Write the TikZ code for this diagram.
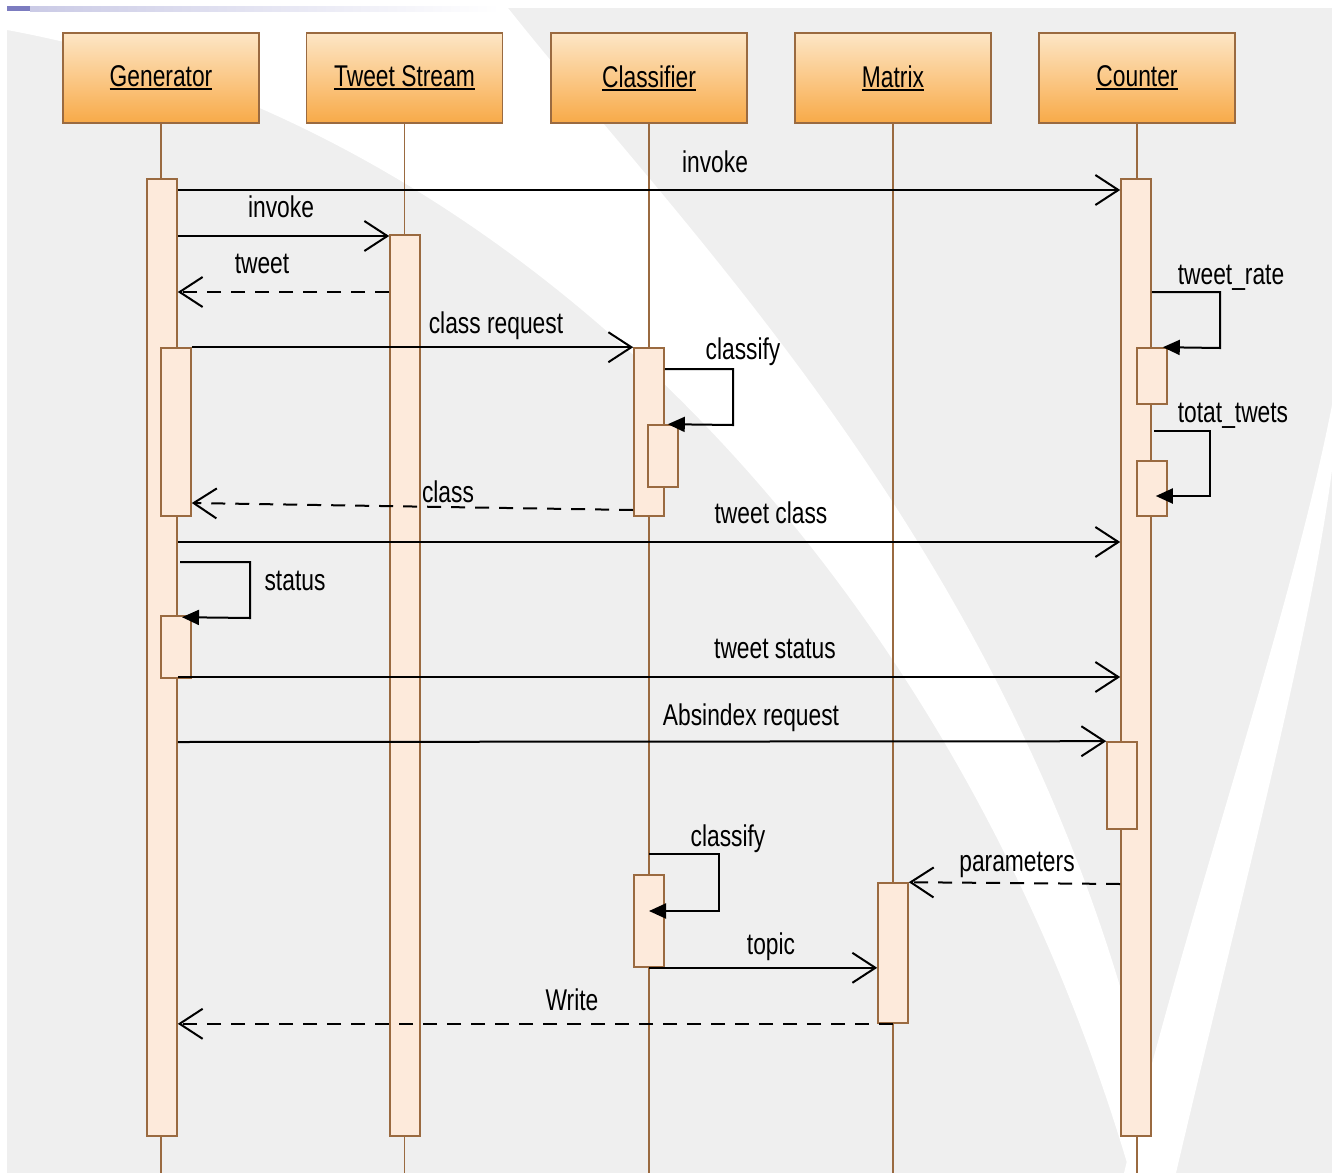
\documentclass[tikz,border=0pt]{standalone}
\usepackage{fontspec}
\setmainfont{Liberation Sans}[FakeStretch=0.76]
\usetikzlibrary{arrows.meta,calc}
\definecolor{bggray}{HTML}{EFEFEF}
\definecolor{lbrown}{HTML}{9A6A40}
\definecolor{actfill}{HTML}{FDEADB}
\definecolor{hdtop}{HTML}{FDE6C6}
\definecolor{hdbot}{HTML}{F8AA48}
\definecolor{topbar}{HTML}{7C7CC0}
\newcommand\hdul[1]{\setbox0\hbox{#1}\rlap{\rule[-3.5pt]{\wd0}{2pt}}\box0}
\begin{document}
\begin{tikzpicture}[x=1pt,y=-1pt,
  header/.style={draw=lbrown, line width=1.8pt, top color=hdtop, bottom color=hdbot, minimum width=196pt, minimum height=90pt, inner sep=0pt, font=\fontsize{30}{36}\selectfont},
  actbar/.style={draw=lbrown, line width=1.6pt, fill=actfill, minimum width=30pt, inner sep=0pt},
  lifeline/.style={draw=lbrown, line width=1.4pt},
  msg/.style={draw=black, line width=2pt, -{Straight Barb[length=23pt,width=30pt]}},
  ret/.style={msg, dash pattern=on 14pt off 10pt},
  selfmsg/.style={draw=black, line width=2pt, -{Triangle[length=17pt,width=15pt]}},
  lbl/.style={font=\fontsize{30}{36}\selectfont, inner sep=0pt, anchor=base},
]
% background
\useasboundingbox (0,0) rectangle (1339,1173);
\fill[white] (0,0) rectangle (1339,1173);
\fill[bggray] (7,8) rectangle (1332,1173);
\fill[white] (7,30) .. controls (500,120) and (950,560) .. (1130,1173)
  -- (1165,1173) .. controls (1060,600) and (700,250) .. (508,8) -- (7,8) -- cycle;
\fill[white] (1332,405) .. controls (1290,620) and (1190,900) .. (1124,1173)
  -- (1176,1173) .. controls (1240,900) and (1310,640) .. (1332,470) -- cycle;
\shade[left color=topbar!40, right color=white] (30,6) rectangle (500,11);
\fill[topbar] (7,6) rectangle (30,11);

% headers
\node[header] (gen) at (161,78) {\hdul{Generator}};
\node[header] (tws) at (404.5,78) {\hdul{Tweet Stream}};
\node[header] (cls) at (649,78) {\hdul{Classifier}};
\node[header] (mat) at (893,78) {\hdul{Matrix}};
\node[header] (cnt) at (1137,78) {\hdul{Counter}};

% lifelines
\draw[lifeline] (gen.south) -- (gen.south |- 0,1173);
\draw[lifeline] (tws.south) -- (tws.south |- 0,1173);
\draw[lifeline] (cls.south) -- (cls.south |- 0,1173);
\draw[lifeline] (mat.south) -- (mat.south |- 0,1173);
\draw[lifeline] (cnt.south) -- (cnt.south |- 0,1173);

% activation bars
\node[actbar, minimum height=957pt] (g0) at (162,657.5) {};
\node[actbar, minimum height=168pt] (g1) at (176,432) {};
\node[actbar, minimum height=62pt] (g2) at (176,647) {};
\node[actbar, minimum height=901pt] (ts) at (405,685.5) {};
\node[actbar, minimum height=168pt] (c1) at (649,432) {};
\node[actbar, minimum height=62pt] (c2) at (663,456) {};
\node[actbar, minimum height=92pt] (c3) at (649,921) {};
\node[actbar, minimum height=140pt] (mx) at (893,953) {};
\node[actbar, minimum height=957pt] (k0) at (1136,657.5) {};
\node[actbar, minimum height=56pt] (k1) at (1152,376) {};
\node[actbar, minimum height=55pt] (k2) at (1152,488.5) {};
\node[actbar, minimum height=87pt] (k3) at (1122,785.5) {};

% messages
\draw[msg] (g0.east |- 0,190) -- (k0.west |- 0,190);
\node[lbl] (l1) at (715,172) {invoke};
\draw[msg] (g0.east |- 0,236) -- (ts.west |- 0,236);
\node[lbl] (l2) at (281,217) {invoke};
\draw[ret] (ts.west |- 0,292) -- (g0.east |- 0,292);
\node[lbl] (l3) at (262,273) {tweet};
\draw[msg] (g1.north east) -- (c1.north west);
\node[lbl] (l4) at (496,333) {class request};
\draw[selfmsg] (c1.east |- 0,369) -- (733,369) -- (733,425) -- ($(c2.north east)+(-11,0)$);
\node[lbl] (l5) at (743,359) {classify};
\draw[ret] (c1.west |- 0,510) -- (g1.east |- 0,503);
\node[lbl] (l6) at (448,502) {class};
\draw[msg] (g0.east |- 0,542) -- (k0.west |- 0,542);
\node[lbl] (l7) at (771,523) {tweet class};
\draw[selfmsg] (180,562) -- (250,562) -- (250,618) -- ($(g2.north)+(6,2)$);
\node[lbl] (l8) at (295,590) {status};
\draw[msg] (g0.east |- 0,677) -- (k0.west |- 0,677);
\node[lbl] (l9) at (775,658) {tweet status};
\draw[msg] (g0.east |- 0,742) -- (k3.north west);
\node[lbl] (l10) at (751,725) {Absindex request};
\draw[selfmsg] (k0.east |- 0,292) -- (1220,292) -- (1220,348) -- ($(k1.north east)+(-5,0)$);
\node[lbl] (l11) at (1231,284) {tweet\_rate};
\draw[selfmsg] (1154,431) -- (1210,431) -- (1210,496) -- ($(k2.east)+(-12,7.5)$);
\node[lbl] (l12) at (1233,422) {totat\_twets};
\draw[selfmsg] (c3.north |- 0,854) -- (719,854) -- (719,911) -- (c3.center |- 0,911);
\node[lbl] (l13) at (728,846) {classify};
\draw[ret] (k0.west |- 0,884) -- (mx.north east);
\node[lbl] (l14) at (1017,871) {parameters};
\draw[msg] (c3.south) -- (mx.west |- c3.south);
\node[lbl] (l15) at (771,954) {topic};
\draw[ret] (mx.south) -- (g0.east |- mx.south);
\node[lbl] (l16) at (572,1010) {Write};
\end{tikzpicture}
\end{document}
